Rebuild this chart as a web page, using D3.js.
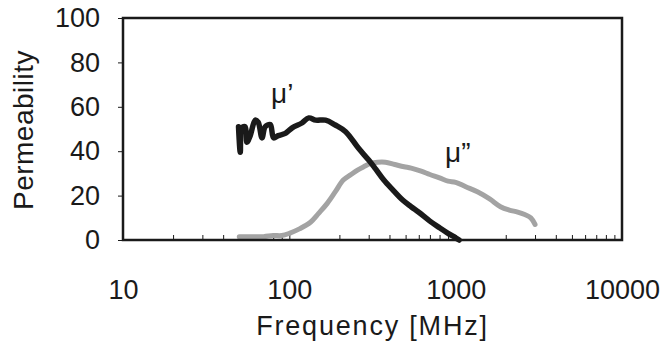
<!DOCTYPE html>
<html>
<head>
<meta charset="utf-8">
<script src="https://cdn.jsdelivr.net/npm/d3@7"></script>
<style>
  body { margin: 0; background: #fff; }
  svg text { font-family: "Liberation Sans", Arial, sans-serif; fill: #1a1a1a; }
</style>
</head>
<body>
<div class="chart-div"></div>
<script>
// frequency [MHz] / value pairs
const muRealFreq = [49.5, 50.7, 51.9, 54.3, 55.6, 58.2, 62.4, 65, 68.5, 71.6, 76.8, 80.4, 85.8, 94.6, 104, 119, 131, 144, 165, 189, 218, 260, 300, 330, 370, 420, 480, 540, 600, 700, 800, 900, 1000, 1050];
const muRealVal  = [51, 39.5, 50.5, 51, 44, 47, 54, 53, 46, 51, 52, 46, 47, 48, 50.5, 52.7, 55, 54, 54, 51.8, 48.8, 41.4, 36, 32, 27, 22.5, 18, 15, 12.5, 8.5, 5.5, 3, 1, 0];

const muImagFreq = [50, 60, 70, 80, 90, 100, 115, 134, 150, 169, 190, 211, 235, 257, 280, 308, 340, 378, 430, 490, 540, 620, 700, 800, 900, 1000, 1150, 1360, 1600, 1860, 2100, 2360, 2600, 2830, 3000];
const muImagVal  = [1.5, 1.5, 1.5, 2, 2, 3, 5, 8, 12, 16.5, 22, 27, 29.5, 31.5, 33, 34.5, 35, 35, 34, 33, 32.4, 31, 29.5, 28, 26.5, 26, 24, 21.6, 18.5, 15, 13.5, 12.6, 11.5, 10, 7];

const yTicks = [0, 20, 40, 60, 80, 100];
const xLabels = [10, 100, 1000, 10000];

const w = 663, h = 345;
const mLeft = 123, mRight = 622, mTop = 18, mBottom = 240;

const svg = d3.select(".chart-div")
  .append("svg")
  .attr("width", w)
  .attr("height", h);

const x = d3.scaleLog().domain([10, 10000]).range([mLeft, mRight]);
const y = d3.scaleLinear().domain([0, 100]).range([mBottom, mTop]);

// minor ticks 20..9000 (inside, pointing up)
const minor = [];
[10, 100, 1000].forEach(d => { for (let k = 1; k <= 9; k++) if (d * k > 10) minor.push(d * k); });

svg.append("g")
  .attr("transform", `translate(0,${mBottom})`)
  .call(d3.axisBottom(x).tickValues(minor).tickSize(-5).tickFormat(""))
  .call(g => g.select(".domain").remove())
  .call(g => g.selectAll("line").attr("stroke", "#1a1a1a").attr("stroke-width", 1));

svg.append("g")
  .attr("transform", `translate(0,${mBottom})`)
  .call(d3.axisBottom(x).tickValues(xLabels).tickSize(0).tickPadding(40).tickFormat(d3.format("d")))
  .call(g => g.select(".domain").remove())
  .call(g => g.selectAll("text").attr("font-size", 27).attr("fill", "#1a1a1a"));

svg.append("g")
  .attr("transform", `translate(${mLeft},0)`)
  .call(d3.axisLeft(y).tickValues(yTicks).tickSize(5).tickPadding(18))
  .call(g => g.select(".domain").remove())
  .call(g => g.selectAll("line").attr("stroke", "#1a1a1a").attr("stroke-width", 1))
  .call(g => g.selectAll("text").attr("font-size", 27).attr("fill", "#1a1a1a"));

const line = d3.line()
  .curve(d3.curveCatmullRom.alpha(0.5))
  .x(d => x(d[0]))
  .y(d => y(d[1]));

svg.append("path")
  .datum(muImagFreq.map((f, i) => [f, muImagVal[i]]))
  .attr("d", line)
  .attr("fill", "none")
  .attr("stroke", "#a3a3a3")
  .attr("stroke-width", 5)
  .attr("stroke-linejoin", "round")
  .attr("stroke-linecap", "round");

svg.append("path")
  .datum(muRealFreq.map((f, i) => [f, muRealVal[i]]))
  .attr("d", line)
  .attr("fill", "none")
  .attr("stroke", "#1a1a1a")
  .attr("stroke-width", 5.5)
  .attr("stroke-linejoin", "round")
  .attr("stroke-linecap", "round");

// plot frame
svg.append("rect")
  .attr("x", mLeft).attr("y", mTop)
  .attr("width", mRight - mLeft).attr("height", mBottom - mTop)
  .attr("fill", "none")
  .attr("stroke", "#1a1a1a")
  .attr("stroke-width", 2.5);

svg.append("text")
  .attr("x", 271).attr("y", 103)
  .attr("font-size", 28)
  .text("μ’");

svg.append("text")
  .attr("x", 445).attr("y", 162)
  .attr("font-size", 28)
  .text("μ”");

svg.append("text")
  .attr("x", (mLeft + mRight) / 2).attr("y", 335)
  .attr("text-anchor", "middle")
  .attr("font-size", 27)
  .attr("letter-spacing", 1.8)
  .text("Frequency [MHz]");

svg.append("text")
  .attr("transform", "translate(33,130) rotate(-90)")
  .attr("text-anchor", "middle")
  .attr("font-size", 28)
  .attr("letter-spacing", 0.5)
  .text("Permeability");
</script>
</body>
</html>
